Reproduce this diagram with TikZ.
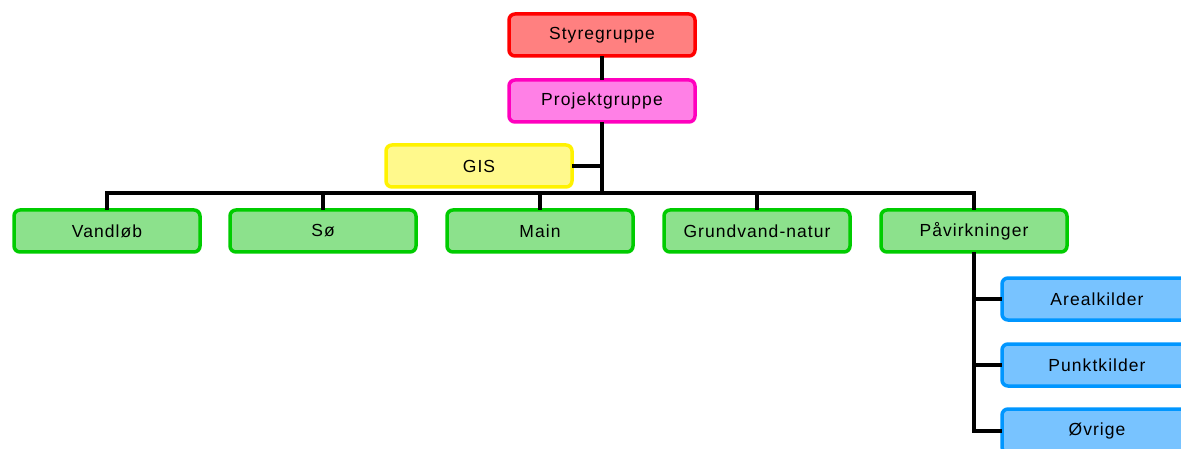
\documentclass[tikz,border=0pt]{standalone}
\usepackage{fontspec}
\setmainfont{Liberation Sans}[LetterSpace=6]
\begin{document}
\begin{tikzpicture}[x=1pt,y=-1pt,
  box/.style={draw, line width=3.5pt, rounded corners=6pt, minimum width=186pt, minimum height=42pt, inner sep=0pt, font=\fontsize{17.5}{20}\selectfont},
  redbox/.style={box, draw=red, fill=red!50},
  pinkbox/.style={box, draw={rgb,255:red,255;green,0;blue,190}, fill={rgb,255:red,255;green,128;blue,230}},
  yelbox/.style={box, draw=yellow, fill=yellow!45},
  grnbox/.style={box, draw={rgb,255:red,0;green,204;blue,0}, fill={rgb,255:red,140;green,225;blue,140}},
  blubox/.style={box, draw={rgb,255:red,0;green,150;blue,255}, fill={rgb,255:red,120;green,195;blue,255}},
  conn/.style={line width=4pt, line cap=rect}]
\useasboundingbox (0,0) rectangle (1181,449);
\begin{scope}
\clip (0,0) rectangle (1181,449);
\coordinate (bar) at (602,193);
\node[redbox] (sty) at (602,35) {Styregruppe};
\node[pinkbox] (proj) at (602,101) {Projektgruppe};
\node[yelbox] (gis) at (479,166) {GIS};
\node[grnbox] (v) at (107,231) {Vandløb};
\node[grnbox] (s) at (323,231) {Sø};
\node[grnbox] (m) at (540,231) {Main};
\node[grnbox] (g) at (757,231) {Grundvand-natur};
\node[grnbox] (p) at (974,231) {Påvirkninger};
\node[blubox, minimum width=190pt] (a) at (1097,299) {Arealkilder};
\node[blubox, minimum width=190pt] (pk) at (1097,365) {Punktkilder};
\node[blubox, minimum width=190pt, minimum height=44pt] (o) at (1097,431) {Øvrige};
\draw[conn] (sty.south) -- (proj.north);
\draw[conn] (proj.south) -- (bar);
\draw[conn] (gis.east) -- (gis.east -| bar);
\draw[conn] (v.north) |- (bar) -| (p.north);
\draw[conn] (s.north) -- (s.north |- bar);
\draw[conn] (m.north) -- (m.north |- bar);
\draw[conn] (g.north) -- (g.north |- bar);
\draw[conn] (p.south) -- (p.south |- o.west) -- (o.west);
\draw[conn] (a.west) -- (a.west -| p.south);
\draw[conn] (pk.west) -- (pk.west -| p.south);
\end{scope}
\end{tikzpicture}
\end{document}
